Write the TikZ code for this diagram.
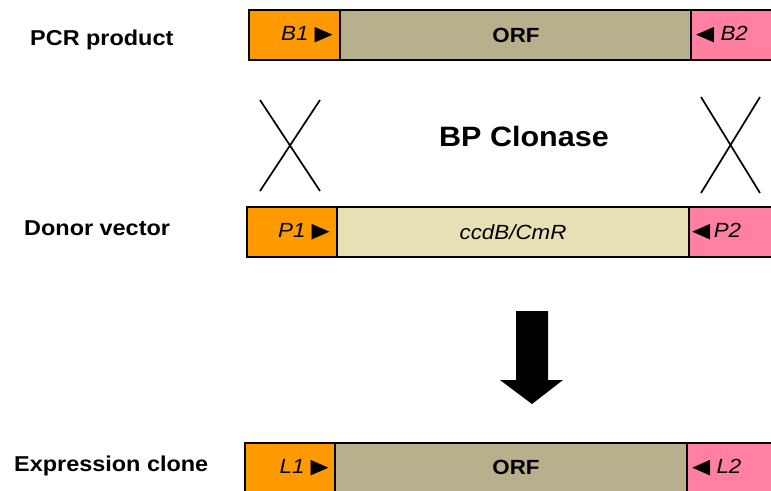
\documentclass[tikz,border=0pt]{standalone}
\usepackage{fontspec}
\setmainfont{Liberation Sans}[FakeStretch=1.09]
\newfontfamily\symfont{DejaVu Sans}[FakeStretch=1.15]
\usetikzlibrary{positioning}
\definecolor{attorange}{RGB}{255,153,0}
\definecolor{attpink}{RGB}{255,128,160}
\definecolor{orftan}{RGB}{184,176,140}
\definecolor{ccdcream}{RGB}{230,224,180}
\tikzset{
  seg/.style={draw,line width=1.5pt,minimum height=50pt,inner sep=0pt,outer sep=0pt},
  segtxt/.style={inner sep=0pt,font=\fontsize{20.5}{24}\selectfont},
  rowname/.style={inner sep=0pt,anchor=west,font=\fontsize{21.5}{26}\selectfont\bfseries}
}
\newcommand{\rt}{{\symfont ▶}}
\newcommand{\lt}{{\symfont ◀}}

\begin{document}
\begin{tikzpicture}[x=1pt,y=-1pt]
       \useasboundingbox (0,0) rectangle (771,490);
       % PCR product
       \node[seg,fill=attorange,minimum width=91pt,anchor=north west] (b1) at (249,10) {};
       \node[seg,fill=orftan,minimum width=351pt,right=0pt of b1] (orf1) {};
       \node[seg,fill=attpink,minimum width=84pt,right=0pt of orf1] (b2) {};
       \node[segtxt,anchor=east] (b1txt) at ([xshift=-7pt]b1.east) {\textit{B1} \rt};
       \node[segtxt,font=\fontsize{20.5}{24}\selectfont\bfseries] (orf1txt) at (516,35) {ORF};
       \node[segtxt,anchor=west] (b2txt) at ([xshift=5pt]b2.west) {\lt\ \textit{B2}};
       \node[rowname] (pcr) at (30,40) {PCR product};
       % recombination
       \draw[line width=1.7pt] (260,100) -- (320,191) ;
       \draw[line width=1.7pt] (320,100) -- (260,191) ;
       \draw[line width=1.7pt] (701,97) -- (760,193) ;
       \draw[line width=1.7pt] (760,97) -- (701,193) ;
       \node[inner sep=0pt,font=\fontsize{28}{34}\selectfont\bfseries] (bp) at (524,136) {BP Clonase};
       % Donor vector
       \node[seg,fill=attorange,minimum width=90pt,anchor=north west] (p1) at (247,207) {};
       \node[seg,fill=ccdcream,minimum width=352pt,right=0pt of p1] (ccdb) {};
       \node[seg,fill=attpink,minimum width=88pt,right=0pt of ccdb] (p2) {};
       \node[segtxt,anchor=east] (p1txt) at ([xshift=-7pt]p1.east) {\textit{P1} \rt};
       \node[segtxt] (ccdbtxt) at (513,232) {\textit{ccdB/CmR}};
       \node[segtxt,anchor=west] (p2txt) at ([xshift=3pt]p2.west) {\lt\,\textit{P2}};
       \node[rowname] (donor) at (24,228) {Donor vector};
       % arrow
       \fill (516,311) -- (548,311) -- (548,380) -- (563,380) -- (532,404) -- (500,380) -- (516,380) -- cycle ;
       % Expression clone
       \node[seg,fill=attorange,minimum width=90pt,anchor=north west] (l1) at (245,443) {};
       \node[seg,fill=orftan,minimum width=352pt,right=0pt of l1] (orf2) {};
       \node[seg,fill=attpink,minimum width=90pt,right=0pt of orf2] (l2) {};
       \node[segtxt,anchor=east] (l1txt) at ([xshift=-6pt]l1.east) {\textit{L1} \rt};
       \node[segtxt,font=\fontsize{20.5}{24}\selectfont\bfseries] (orf2txt) at (516,467) {ORF};
       \node[segtxt,anchor=west] (l2txt) at ([xshift=5pt]l2.west) {\lt\ \textit{L2}};
       \node[rowname] (expr) at (14,466) {Expression clone};
      \end{tikzpicture}
\end{document}
